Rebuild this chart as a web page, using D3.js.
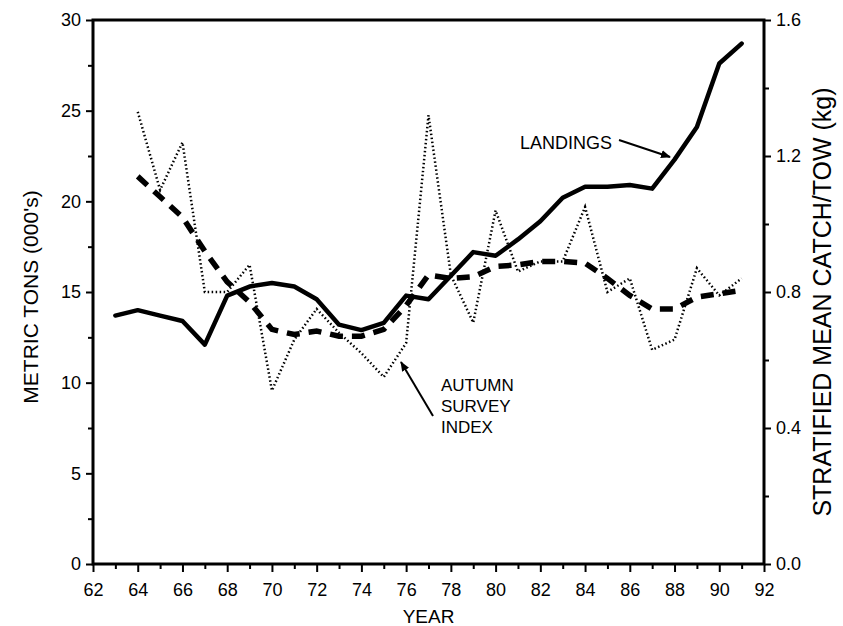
<!DOCTYPE html>
<html>
<head>
<meta charset="utf-8">
<script src="https://cdn.jsdelivr.net/npm/d3@7"></script>
<style>
  body { margin: 0; background: #fff; }
  svg { font-family: "Liberation Sans", Arial, sans-serif; }
  .axis path { display: none; }
  .axis line { stroke: #000; stroke-width: 2; }
  .axis text { font-size: 18px; fill: #000; }
</style>
</head>
<body>
<script>

// data
var landingYears = [63, 64, 65, 66, 67, 68, 69, 70, 71, 72, 73, 74, 75, 76, 77,
                    78, 79, 80, 81, 82, 83, 84, 85, 86, 87, 88, 89, 90, 91];
var landings = [13.7, 14.0, 13.7, 13.4, 12.1, 14.8, 15.3, 15.5, 15.3, 14.6, 13.2, 12.9, 13.3, 14.8, 14.6,
                15.9, 17.2, 17.0, 17.9, 18.9, 20.2, 20.8, 20.8, 20.9, 20.7, 22.3, 24.1, 27.6, 28.7];

var surveyYears = [64, 65, 66, 67, 68, 69, 70, 71, 72, 73, 74, 75, 76, 77,
                   78, 79, 80, 81, 82, 83, 84, 85, 86, 87, 88, 89, 90, 91];
// raw autumn survey index (kg/tow), dotted
var surveyIndex = [1.33, 1.10, 1.24, 0.80, 0.80, 0.88, 0.51, 0.66, 0.75, 0.68, 0.62, 0.55, 0.65, 1.32,
                   0.85, 0.71, 1.04, 0.86, 0.89, 0.89, 1.05, 0.80, 0.84, 0.63, 0.66, 0.87, 0.79, 0.84];
// smoothed survey index (kg/tow), dashed
var surveySmooth = [1.14, 1.08, 1.02, 0.92, 0.83, 0.77, 0.69, 0.675, 0.685, 0.67, 0.67, 0.69, 0.76, 0.85,
                    0.84, 0.845, 0.875, 0.88, 0.89, 0.89, 0.885, 0.84, 0.79, 0.75, 0.75, 0.785, 0.795, 0.805];

var xMajor = d3.range(62, 93, 2);
var xMinor = d3.range(63, 92, 2);
var leftMajor = [0, 5, 10, 15, 20, 25, 30];
var leftMinor = [2.5, 7.5, 12.5, 17.5, 22.5, 27.5];
var rightMajor = [0, 0.4, 0.8, 1.2, 1.6];
var rightMinor = [0.2, 0.6, 1.0, 1.4];

// plot frame (pixel edges)
var frame = {left: 93, right: 764, top: 20, bottom: 564};

var svg = d3.select("body").append("svg")
            .attr("width", 843)
            .attr("height", 626);

var x = d3.scaleLinear().domain([62, 92]).range([frame.left, frame.right]);
var yL = d3.scaleLinear().domain([0, 30]).range([frame.bottom, frame.top]);
var yR = d3.scaleLinear().domain([0, 1.6]).range([frame.bottom, frame.top]);

// axes: major ticks with labels, minor ticks without
svg.append("g").attr("class", "axis")
   .attr("transform", "translate(0," + frame.bottom + ")")
   .call(d3.axisBottom(x).tickValues(xMajor).tickSize(8).tickPadding(11).tickFormat(d3.format("d")));
svg.append("g").attr("class", "axis")
   .attr("transform", "translate(0," + frame.bottom + ")")
   .call(d3.axisBottom(x).tickValues(xMinor).tickSize(5).tickFormat(""));

svg.append("g").attr("class", "axis")
   .attr("transform", "translate(" + frame.left + ",0)")
   .call(d3.axisLeft(yL).tickValues(leftMajor).tickSize(7).tickPadding(5));
svg.append("g").attr("class", "axis")
   .attr("transform", "translate(" + frame.left + ",0)")
   .call(d3.axisLeft(yL).tickValues(leftMinor).tickSize(5).tickFormat(""));

svg.append("g").attr("class", "axis")
   .attr("transform", "translate(" + frame.right + ",0)")
   .call(d3.axisRight(yR).tickValues(rightMajor).tickSize(7).tickPadding(5).tickFormat(d3.format(".1f")));
svg.append("g").attr("class", "axis")
   .attr("transform", "translate(" + frame.right + ",0)")
   .call(d3.axisRight(yR).tickValues(rightMinor).tickSize(5).tickFormat(""));

// frame
svg.append("rect")
   .attr("x", frame.left)
   .attr("y", frame.top)
   .attr("width", frame.right - frame.left)
   .attr("height", frame.bottom - frame.top)
   .attr("fill", "none")
   .attr("stroke", "#000")
   .attr("stroke-width", 3);

// lines
var landLine = d3.line()
  .x(function(d, i) { return x(landingYears[i]); })
  .y(function(d) { return yL(d); });
var surveyLine = d3.line()
  .x(function(d, i) { return x(surveyYears[i]); })
  .y(function(d) { return yR(d); });

svg.append("path")
   .attr("d", surveyLine(surveyIndex))
   .attr("fill", "none")
   .attr("stroke", "#000")
   .attr("stroke-width", 2.5)
   .attr("stroke-dasharray", "1.5,2.5");

svg.append("path")
   .attr("d", surveyLine(surveySmooth))
   .attr("fill", "none")
   .attr("stroke", "#000")
   .attr("stroke-width", 5.5)
   .attr("stroke-dasharray", "13,9");

svg.append("path")
   .attr("d", landLine(landings))
   .attr("fill", "none")
   .attr("stroke", "#000")
   .attr("stroke-width", 4.5)
   .attr("stroke-linejoin", "round")
   .attr("stroke-linecap", "round");

// axis titles
svg.append("text")
   .attr("text-anchor", "middle")
   .attr("transform", "translate(38," + 297 + ")rotate(-90)")
   .style("font-size", "21px")
   .text("METRIC TONS (000's)");
svg.append("text")
   .attr("text-anchor", "middle")
   .attr("transform", "translate(831," + 302 + ")rotate(-90)")
   .style("font-size", "25px")
   .text("STRATIFIED MEAN CATCH/TOW (kg)");
svg.append("text")
   .attr("text-anchor", "middle")
   .attr("x", (frame.left + frame.right) / 2)
   .attr("y", 623)
   .style("font-size", "19px")
   .text("YEAR");

// annotations
var defs = svg.append("defs");
defs.append("marker")
    .attr("id", "head")
    .attr("viewBox", "0 0 10 10")
    .attr("refX", 9)
    .attr("refY", 5)
    .attr("markerWidth", 5)
    .attr("markerHeight", 5)
    .attr("orient", "auto")
    .append("path")
    .attr("d", "M0,1L10,5L0,9Z")
    .attr("fill", "#000");

svg.append("text")
   .attr("x", 520)
   .attr("y", 149)
   .style("font-size", "18px")
   .text("LANDINGS");
svg.append("line")
   .attr("x1", 619).attr("y1", 140)
   .attr("x2", 670).attr("y2", 157)
   .attr("stroke", "#000")
   .attr("stroke-width", 2)
   .attr("marker-end", "url(#head)");

var ann = svg.append("text")
   .attr("x", 441)
   .attr("y", 391)
   .style("font-size", "17px");
["AUTUMN", "SURVEY", "INDEX"].forEach(function(s, i) {
  ann.append("tspan").attr("x", 441).attr("dy", i ? 21 : 0).text(s);
});
svg.append("line")
   .attr("x1", 433).attr("y1", 416)
   .attr("x2", 401).attr("y2", 362)
   .attr("stroke", "#000")
   .attr("stroke-width", 2)
   .attr("marker-end", "url(#head)");

</script>
</body>
</html>
